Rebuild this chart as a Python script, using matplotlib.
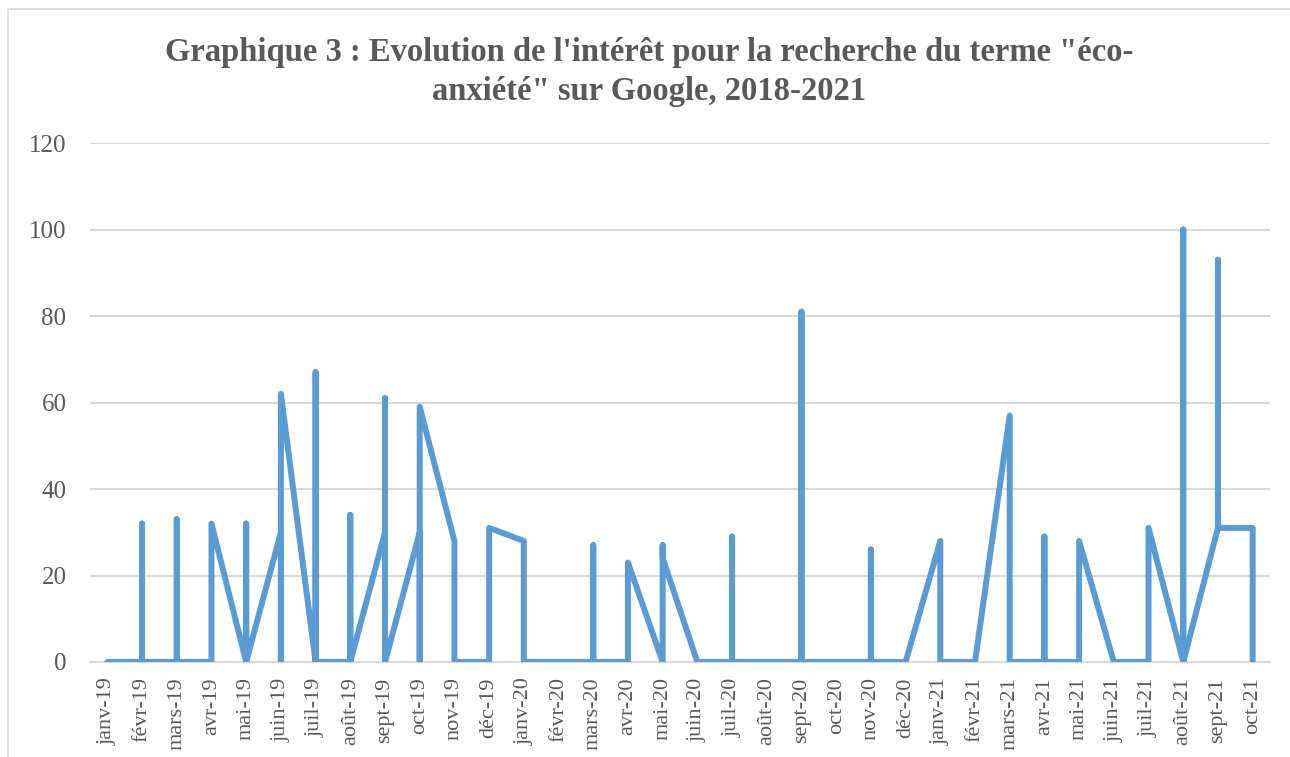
import numpy as np
import matplotlib.pyplot as plt
from matplotlib.lines import Line2D

# Mois affichés sur l'axe des abscisses
mois = ['janv-19', 'févr-19', 'mars-19', 'avr-19', 'mai-19', 'juin-19', 'juil-19',
        'août-19', 'sept-19', 'oct-19', 'nov-19', 'déc-19', 'janv-20', 'févr-20',
        'mars-20', 'avr-20', 'mai-20', 'juin-20', 'juil-20', 'août-20', 'sept-20',
        'oct-20', 'nov-20', 'déc-20', 'janv-21', 'févr-21', 'mars-21', 'avr-21',
        'mai-21', 'juin-21', 'juil-21', 'août-21', 'sept-21', 'oct-21']

# Intérêt hebdomadaire (Google Trends), une liste par mois
semaines = [
    [0, 0, 0, 0],
    [0, 32, 0, 0],
    [0, 33, 0, 0, 0],
    [0, 0, 0, 32],
    [0, 32, 0, 0],
    [30, 0, 0, 62],
    [0, 67, 0, 0],
    [0, 34, 0, 0],
    [30, 61, 0, 0, 0],
    [30, 0, 0, 59],
    [28, 0, 0, 0],
    [0, 0, 0, 0, 31],
    [28, 0, 0, 0],
    [0, 0, 0, 0],
    [0, 27, 0, 0, 0],
    [0, 0, 0, 23],
    [0, 27, 0, 24],
    [0, 0, 0, 0],
    [0, 29, 0, 0],
    [0, 0, 0, 0, 0],
    [0, 81, 0, 0],
    [0, 0, 0, 0],
    [0, 26, 0, 0, 0],
    [0, 0, 0, 0],
    [28, 0, 0, 0, 0],
    [0, 0, 0, 0],
    [57, 0, 0, 0],
    [0, 29, 0, 0],
    [0, 0, 0, 0, 28],
    [0, 0, 0, 0],
    [0, 0, 0, 31],
    [0, 100, 0, 0, 0],
    [31, 93, 31, 31],
    [31, 0],
]

gris = '#595959'
bleu = '#5B9BD5'
plt.rcParams['font.family'] = ['Liberation Serif', 'DejaVu Serif']

# axe de type date en Excel : toutes les semaines d'un mois tombent au même x
x = np.repeat(np.arange(len(mois)), [len(s) for s in semaines])
y = np.concatenate([np.array(s, dtype=float) for s in semaines])

fig = plt.figure(figsize=(12.9, 7.57), dpi=100)
ax = fig.add_axes([90 / 1290, 1 - 662 / 757, 1180 / 1290, 519 / 757])

ax.plot(x, y, color=bleu, linewidth=4.3, solid_joinstyle='round',
        solid_capstyle='round', zorder=3)

ax.set_xlim(-0.5, len(mois) - 0.5)
ax.set_ylim(0, 120)
ax.set_yticks(np.arange(0, 121, 20))
ax.set_xticks(np.arange(len(mois)))
ax.set_xticklabels(mois, rotation=90, ha='center', va='top')
ax.tick_params(axis='y', length=0, pad=17, labelsize=18, labelcolor=gris)
ax.tick_params(axis='x', length=0, pad=11, labelsize=16, labelcolor=gris)
ax.grid(axis='y', color='#D9D9D9', linewidth=1.5)
ax.set_axisbelow(True)
for cote in ['top', 'right', 'left']:
    ax.spines[cote].set_visible(False)
ax.spines['bottom'].set_color('#D9D9D9')
ax.spines['bottom'].set_linewidth(1.5)
ax.spines['bottom'].set_zorder(1)

fig.text(0.503, 1 - 72 / 757,
         'Graphique 3 : Evolution de l\'intérêt pour la recherche du terme "éco-\n'
         'anxiété" sur Google, 2018-2021',
         ha='center', va='center', fontsize=23.5, fontweight='bold', color=gris,
         linespacing=1.33)

# cadre du graphique (bords gauche et haut visibles)
fig.add_artist(Line2D([8 / 1290, 8 / 1290, 1.0], [0.0, 1 - 9 / 757, 1 - 9 / 757],
                      transform=fig.transFigure, color='#D9D9D9', linewidth=1.2))

fig.savefig('out.png', dpi=100)
